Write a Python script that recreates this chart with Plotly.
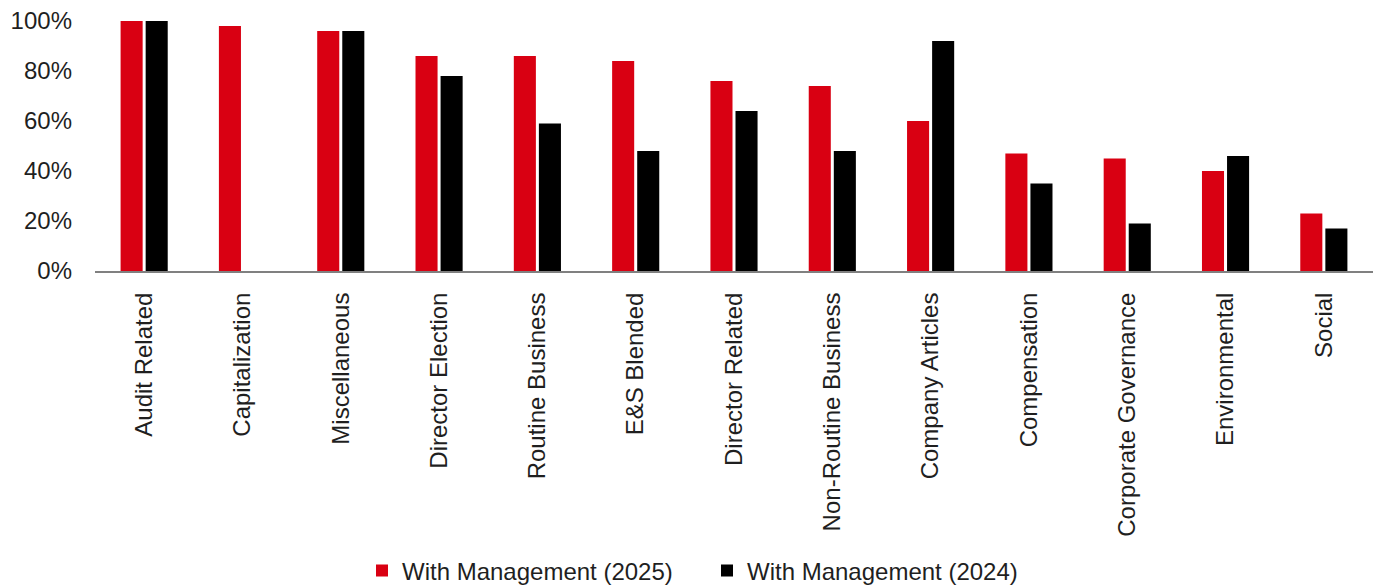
import plotly.graph_objects as go

categories = ["Audit Related", "Capitalization", "Miscellaneous", "Director Election",
              "Routine Business", "E&S Blended", "Director Related", "Non-Routine Business",
              "Company Articles", "Compensation", "Corporate Governance", "Environmental", "Social"]
with_mgmt_2025 = [100, 98, 96, 86, 86, 84, 76, 74, 60, 47, 45, 40, 23]
with_mgmt_2024 = [100, 0, 96, 78, 59, 48, 64, 48, 92, 35, 19, 46, 17]
y_ticks = [0, 20, 40, 60, 80, 100]
y_tick_labels = ["0%", "20%", "40%", "60%", "80%", "100%"]

FONT = "Liberation Sans"
TXT = "#1f1f1f"

fig = go.Figure()
fig.add_trace(go.Bar(x=categories, y=with_mgmt_2025, name="With Management (2025)",
                     marker=dict(color="#d90012", line=dict(width=0))))
fig.add_trace(go.Bar(x=categories, y=with_mgmt_2024, name="With Management (2024)",
                     marker=dict(color="#000000", line=dict(width=0))))

fig.update_layout(
    width=1380, height=587,
    margin=dict(l=95, r=7, t=21, b=316),
    paper_bgcolor="white", plot_bgcolor="white",
    barmode="group", bargap=0.49, bargroupgap=0.12,
    font=dict(family=FONT, size=24, color=TXT),
    showlegend=True,
    legend=dict(orientation="h", xref="container", yref="container",
                x=362/1380, xanchor="left", y=(587-571)/587, yanchor="middle",
                font=dict(family=FONT, size=24, color=TXT),
                entrywidth=300, entrywidthmode="pixels", itemwidth=30,
                bgcolor="rgba(0,0,0,0)"),
)
fig.update_xaxes(showline=True, linecolor="#808080", linewidth=2, showgrid=False,
                 ticks="", tickangle=-90, ticklabelstandoff=10,
                 tickfont=dict(family=FONT, size=24, color=TXT))
fig.update_yaxes(range=[0, 100], tickvals=y_ticks, ticktext=y_tick_labels,
                 showgrid=False, zeroline=False, showline=False, ticks="",
                 ticklabelstandoff=22,
                 tickfont=dict(family=FONT, size=24, color=TXT))

fig.write_html("out.html")
